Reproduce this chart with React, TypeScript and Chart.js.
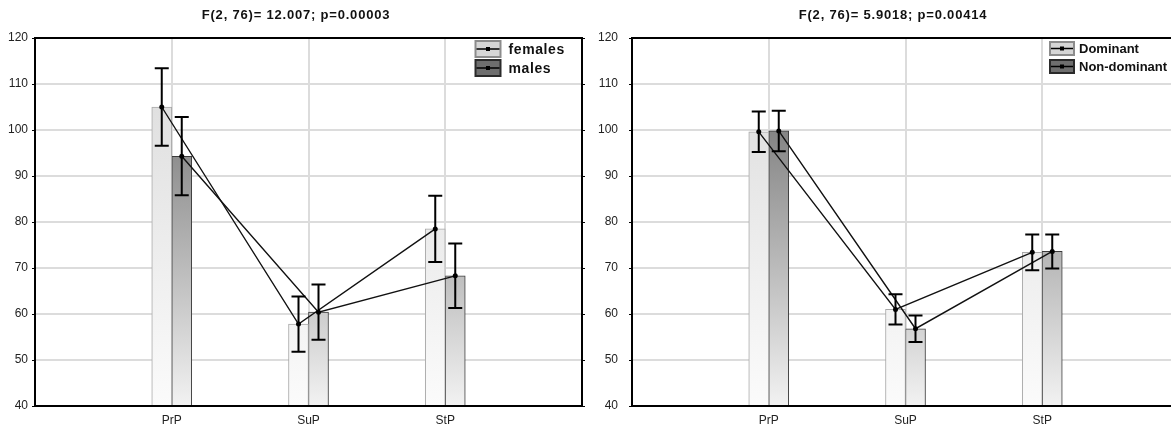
import React, { useEffect, useRef } from 'react';
import { Chart, registerables } from 'chart.js';

Chart.register(...registerables);

// ---------- data ----------
const categories = ['PrP', 'SuP', 'StP'];
const yMin = 40;
const yMax = 120;
const yStep = 10;

const leftTitle = 'F(2, 76)= 12.007; p=0.00003';
const leftSeriesNames = ['females', 'males'];
const femalesMean = [105.0, 57.8, 78.5];
const femalesErr = [8.4, 6.0, 7.2];
const malesMean = [94.3, 60.4, 68.3];
const malesErr = [8.5, 6.0, 7.0];

const rightTitle = 'F(2, 76)= 5.9018; p=0.00414';
const rightSeriesNames = ['Dominant', 'Non-dominant'];
const dominantMean = [99.6, 61.0, 73.4];
const dominantErr = [4.4, 3.3, 3.9];
const nonDominantMean = [99.8, 56.8, 73.6];
const nonDominantErr = [4.4, 2.9, 3.7];

// ---------- helpers ----------
const FONT = '"Liberation Sans", Arial, sans-serif';
const pad = (arr: number[]) => [null, ...arr, null];
const axisLabels = ['', ...categories, ''];

const STYLES = [
  { top: '#dadada', bottom: '#fbfbfb', border: '#a8a8a8', legendFill: '#d6d6d6', legendBorder: '#8c8c8c' },
  { top: '#606060', bottom: '#f2f2f2', border: '#3a3a3a', legendFill: '#6e6e6e', legendBorder: '#2a2a2a' },
];

function gradientFor(idx: number) {
  return (context: any) => {
    const chart = context.chart;
    const { ctx, chartArea } = chart;
    if (!chartArea) return STYLES[idx].top;
    const g = ctx.createLinearGradient(0, chartArea.top, 0, chartArea.bottom);
    g.addColorStop(0, STYLES[idx].top);
    g.addColorStop(1, STYLES[idx].bottom);
    return g;
  };
}

const decorPlugin = {
  id: 'panelDecor',
  afterDatasetsDraw(chart: any, _args: any, opts: any) {
    const { ctx, chartArea, scales } = chart;
    const y = scales.y;
    ctx.save();

    // connecting lines through bar tops
    chart.data.datasets.forEach((ds: any, i: number) => {
      const meta = chart.getDatasetMeta(i);
      ctx.beginPath();
      let started = false;
      meta.data.forEach((el: any, j: number) => {
        if (ds.data[j] == null) return;
        if (!started) { ctx.moveTo(el.x, el.y); started = true; }
        else ctx.lineTo(el.x, el.y);
      });
      ctx.strokeStyle = '#111';
      ctx.lineWidth = 1.4;
      ctx.stroke();
    });

    // error bars
    chart.data.datasets.forEach((ds: any, i: number) => {
      const meta = chart.getDatasetMeta(i);
      const errs = opts.errors[i];
      meta.data.forEach((el: any, j: number) => {
        const v = ds.data[j];
        const e = errs[j];
        if (v == null || e == null) return;
        const yt = y.getPixelForValue(v + e);
        const yb = y.getPixelForValue(v - e);
        ctx.strokeStyle = '#000';
        ctx.lineWidth = 2;
        ctx.beginPath();
        ctx.moveTo(el.x, yt); ctx.lineTo(el.x, yb);
        ctx.moveTo(el.x - 7, yt); ctx.lineTo(el.x + 7, yt);
        ctx.moveTo(el.x - 7, yb); ctx.lineTo(el.x + 7, yb);
        ctx.stroke();
      });
    });

    // point markers
    chart.data.datasets.forEach((ds: any, i: number) => {
      const meta = chart.getDatasetMeta(i);
      meta.data.forEach((el: any, j: number) => {
        if (ds.data[j] == null) return;
        ctx.fillStyle = '#000';
        ctx.beginPath();
        ctx.arc(el.x, el.y, 2.5, 0, Math.PI * 2);
        ctx.fill();
      });
    });

    // frame
    ctx.strokeStyle = '#000';
    ctx.lineWidth = 2;
    ctx.strokeRect(chartArea.left, chartArea.top, chartArea.right - chartArea.left, chartArea.bottom - chartArea.top);

    // y tick marks outside (small)
    ctx.lineWidth = 1;
    y.ticks.forEach((t: any) => {
      const py = Math.round(y.getPixelForValue(t.value)) + 0.5;
      ctx.beginPath();
      ctx.moveTo(chartArea.left - 3, py); ctx.lineTo(chartArea.left, py);
      ctx.moveTo(chartArea.right, py); ctx.lineTo(chartArea.right + 3, py);
      ctx.stroke();
    });

    // title
    ctx.fillStyle = '#111';
    ctx.font = `bold 13px ${FONT}`;
    (ctx as any).letterSpacing = '0.8px';
    ctx.textAlign = 'center';
    ctx.textBaseline = 'middle';
    ctx.fillText(opts.title, opts.titleX, 15);
    (ctx as any).letterSpacing = '0px';

    // legend
    const lg = opts.legend;
    chart.data.datasets.forEach((ds: any, i: number) => {
      const bx = chartArea.left + lg.dx;
      const by = lg.top + i * lg.step;
      ctx.fillStyle = STYLES[i].legendFill;
      ctx.fillRect(bx, by, lg.w, lg.h);
      ctx.strokeStyle = STYLES[i].legendBorder;
      ctx.lineWidth = 2;
      ctx.strokeRect(bx, by, lg.w, lg.h);
      const cy = by + lg.h / 2;
      ctx.strokeStyle = '#000';
      ctx.lineWidth = 1.5;
      ctx.beginPath();
      ctx.moveTo(bx + 1, cy); ctx.lineTo(bx + lg.w - 1, cy);
      ctx.stroke();
      ctx.fillStyle = '#000';
      ctx.fillRect(bx + lg.w / 2 - 2, cy - 2, 4, 4);
      ctx.fillStyle = '#111';
      ctx.font = `bold ${lg.fontSize}px ${FONT}`;
      (ctx as any).letterSpacing = lg.spacing;
      ctx.textAlign = 'left';
      ctx.textBaseline = 'middle';
      ctx.fillText(ds.label, bx + lg.w + lg.gap, cy + 1);
      (ctx as any).letterSpacing = '0px';
    });

    ctx.restore();
  },
};

interface PanelProps {
  title: string;
  names: string[];
  means: number[][];
  errs: number[][];
  yLabelPad: number;
  legend: any;
}

function Panel({ title, names, means, errs, yLabelPad, legend }: PanelProps) {
  const ref = useRef<HTMLCanvasElement>(null);
  useEffect(() => {
    if (!ref.current) return;
    const tickFont = { family: FONT, size: 12 };
    const chart = new Chart(ref.current, {
      type: 'bar',
      data: {
        labels: axisLabels,
        datasets: means.map((m, i) => ({
          label: names[i],
          data: pad(m) as any,
          backgroundColor: gradientFor(i) as any,
          borderColor: STYLES[i].border,
          borderWidth: 1,
          barThickness: 20,
        })),
      },
      options: {
        animation: false,
        responsive: false,
        maintainAspectRatio: false,
        layout: { padding: { top: 38, right: 18, left: 0, bottom: 0 } },
        plugins: {
          legend: { display: false },
          title: { display: false },
          tooltip: { enabled: false },
          panelDecor: { errors: errs.map(pad), title, titleX: 296, legend },
        } as any,
        scales: {
          x: {
            type: 'category',
            offset: false,
            grid: { color: '#dcdcdc', lineWidth: 2, drawTicks: false, offset: false },
            border: { display: false },
            ticks: { padding: 7, font: tickFont, color: '#222', autoSkip: false, maxRotation: 0 },
            afterFit: (s: any) => { s.height = 26; },
          },
          y: {
            min: yMin,
            max: yMax,
            grid: { color: '#dcdcdc', lineWidth: 2, drawTicks: false },
            border: { display: false },
            ticks: { stepSize: yStep, padding: yLabelPad, font: tickFont, color: '#222' },
            afterFit: (s: any) => { s.width = 35; },
          },
        },
      },
      plugins: [decorPlugin],
    });
    return () => chart.destroy();
  }, []);
  return <canvas ref={ref} width={600} height={432} style={{ display: 'block', width: 600, height: 432 }} />;
}

export default function App() {
  return (
    <div style={{ position: 'fixed', left: 0, top: 0, width: 1171, height: 432, overflow: 'hidden', background: '#fff' }}>
      <div style={{ position: 'absolute', left: 0, top: 0 }}>
        <Panel
          title={leftTitle}
          names={leftSeriesNames}
          means={[femalesMean, malesMean]}
          errs={[femalesErr, malesErr]}
          yLabelPad={7}
          legend={{ dx: 440.5, top: 41, step: 19, w: 25, h: 16, gap: 8, fontSize: 14, spacing: '0.6px' }}
        />
      </div>
      <div style={{ position: 'absolute', left: 597, top: 0 }}>
        <Panel
          title={rightTitle}
          names={rightSeriesNames}
          means={[dominantMean, nonDominantMean]}
          errs={[dominantErr, nonDominantErr]}
          yLabelPad={14}
          legend={{ dx: 418, top: 42, step: 18, w: 24, h: 13, gap: 5, fontSize: 13, spacing: '0px' }}
        />
      </div>
    </div>
  );
}
